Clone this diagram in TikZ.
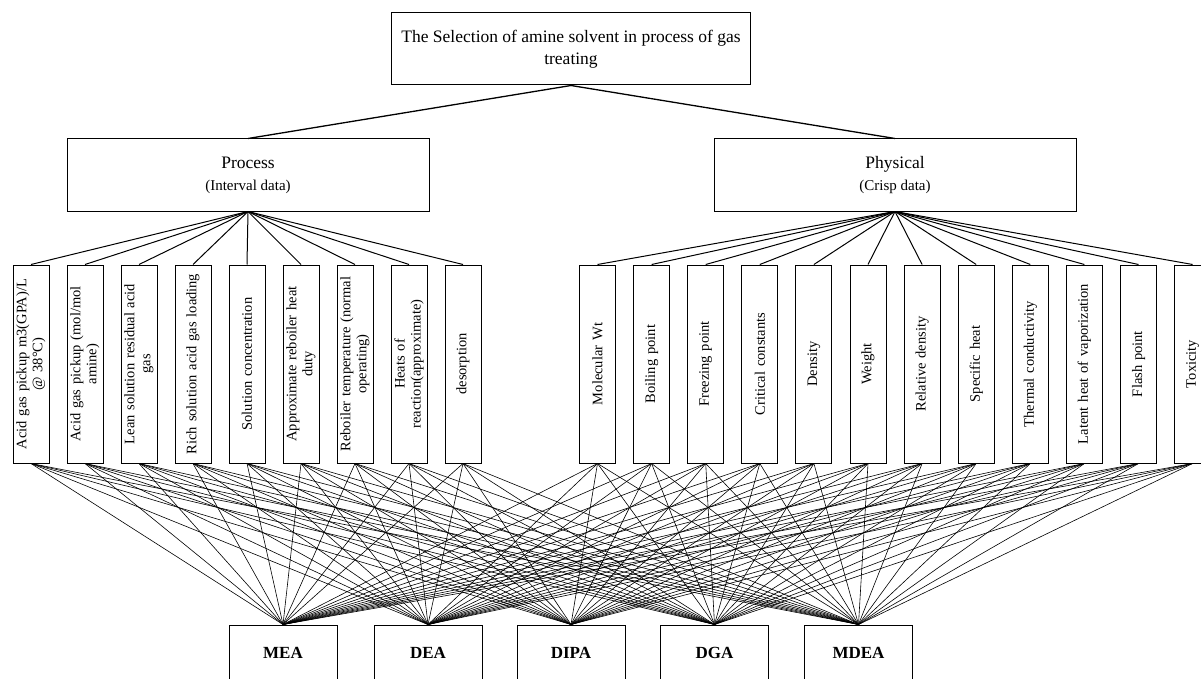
\documentclass[tikz,border=0pt]{standalone}
\usepackage{fontspec}
\setmainfont{Liberation Serif}
\usepackage{tikz}

\begin{document}
\begin{tikzpicture}[x=1pt, y=-1pt,
    box/.style={draw, line width=1pt, inner sep=2pt, align=center},
    head/.style={box, minimum height=72pt, font=\fontsize{17.5}{22}\selectfont},
    crit/.style={box, rotate=90, minimum width=198pt, minimum height=36pt, text width=194pt, font=\fontsize{14.5}{16}\selectfont},
    alt/.style={box, minimum width=108pt, minimum height=56pt, font=\fontsize{17}{18}\selectfont\bfseries},
    link/.style={line width=0.6pt}]
    \useasboundingbox (0,0) rectangle (1201,679);
    \clip (0,0) rectangle (1201,679);

    % Goal and the two groups
    \node[head, minimum width=359pt] (goal) at (571,49) {The Selection of amine solvent in process of gas\\treating};
    \node[head, minimum width=362pt] (proc) at (248,175) {Process\\{\fontsize{15}{16}\selectfont(Interval data)}};
    \node[head, minimum width=362pt] (phys) at (895,175) {Physical\\{\fontsize{15}{16}\selectfont(Crisp data)}};

    % Process criteria
    \foreach \t [count=\i] in {{Acid gas pickup m3(GPA)/L\\@ 38°C)}, {Acid gas pickup (mol/mol\\amine)},
        {Lean solution residual acid\\gas}, {Rich solution acid gas loading}, {Solution concentration},
        {Approximate reboiler heat\\duty}, {Reboiler temperature (normal\\operating)},
        {Heats of\\reaction(approximate)}, {desorption}}
        \node[crit] (p\i) at ({31+54*(\i-1)},364) {\t};

    % Physical criteria
    \foreach \t [count=\j] in {Molecular Wt, Boiling point, Freezing point, Critical constants, Density,
        Weight, Relative density, Specific heat, Thermal conductivity, Latent heat of vaporization,
        Flash point, Toxicity}
        \node[crit] (c\j) at ({597.5+54.1*(\j-1)},364) {\t};

    % Alternatives
    \foreach \t/\x [count=\k] in {MEA/283, DEA/428, DIPA/571, DGA/714.5, MDEA/858.5}
        \node[alt] (a\k) at (\x,653) {\t};

    % Connectors
    \draw[line width=1.3pt] (goal.south) -- (proc.north);
    \draw[line width=1.3pt] (goal.south) -- (phys.north);
    \foreach \i in {1,...,9}
        \draw[line width=1pt] (proc.south) -- (p\i.east);
    \foreach \j in {1,...,12}
        \draw[line width=1pt] (phys.south) -- (c\j.east);
    \foreach \k in {1,...,5} {
        \foreach \i in {1,...,9}
            \draw[link] (p\i.west) -- (a\k.north);
        \foreach \j in {1,...,12}
            \draw[link] (c\j.west) -- (a\k.north);
    }
\end{tikzpicture}
\end{document}
